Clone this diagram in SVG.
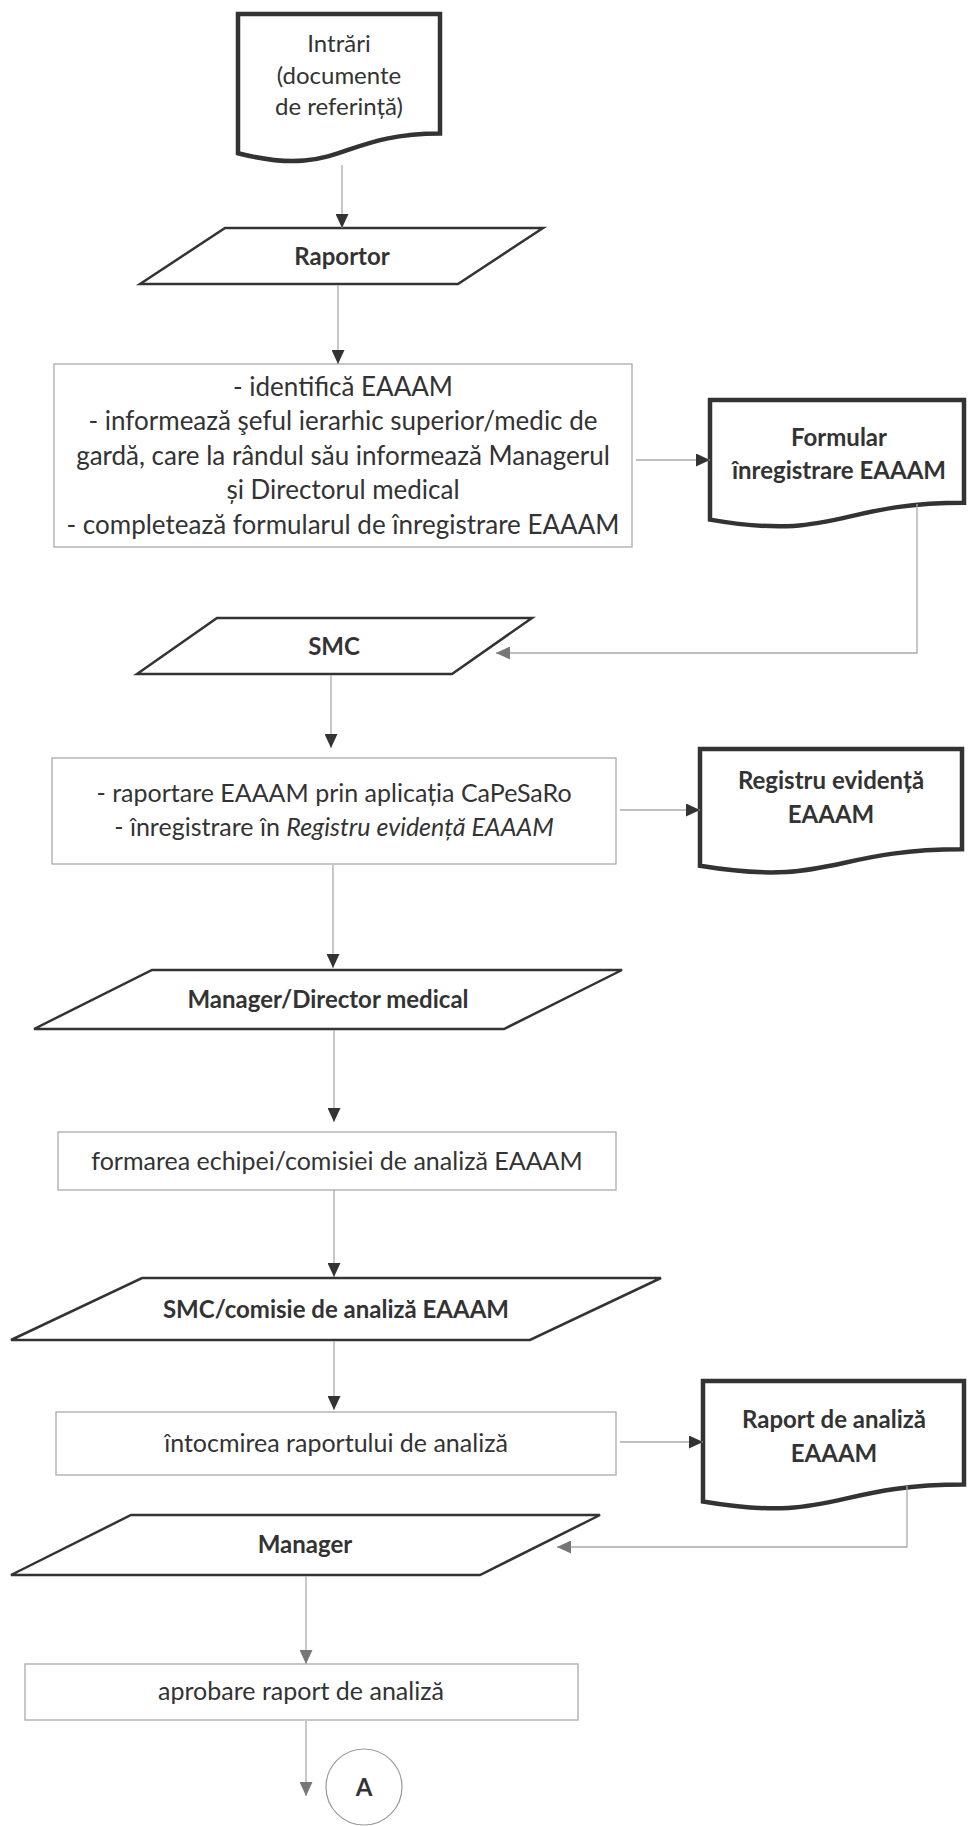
<svg xmlns="http://www.w3.org/2000/svg" width="968" height="1826" viewBox="0 0 968 1826">
<defs>
<marker id="ad" markerUnits="userSpaceOnUse" markerWidth="14" markerHeight="13" refX="14" refY="6.5" orient="auto"><path d="M0,0 L14,6.5 L0,13 Z" fill="#333"/></marker>
<marker id="ag" markerUnits="userSpaceOnUse" markerWidth="14" markerHeight="13" refX="14" refY="6.5" orient="auto"><path d="M0,0 L14,6.5 L0,13 Z" fill="#777"/></marker>
<style>
.doc{fill:#fff;stroke:#333;stroke-width:4.5;stroke-linejoin:miter}
.io{fill:#fff;stroke:#333;stroke-width:2.5;stroke-linejoin:miter}
.box{fill:#fff;stroke:#aaa;stroke-width:1.3}
.circ{fill:#fff;stroke:#999;stroke-width:1.2}
.t{font-family:Lato,'Open Sans',sans-serif;font-size:25px;fill:#333;text-anchor:middle}
.b{font-weight:bold;font-size:24px}
.c{fill:none;stroke:#aaa;stroke-width:1.3}
.cd{marker-end:url(#ad)}
.cg{marker-end:url(#ag)}
</style>
</defs>
<rect width="968" height="1826" fill="#fff"/>

<g id="intrari">
<path class="doc" d="M238,14 H440 V133.5 C339,133.5 339,178.9 238,153.2 Z"/>
<text class="t" x="339" y="52" style="font-size:24px">Intrări</text>
<text class="t" x="339" y="84" style="font-size:24px">(documente</text>
<text class="t" x="339" y="115" style="font-size:24px">de referință)</text>
</g>

<g id="raportor">
<polygon class="io" points="140,284 225,228 543,228 458,284"/>
<text class="t b" x="342" y="265">Raportor</text>
</g>

<g id="pas1">
<rect class="box" x="54" y="364" width="578" height="183"/>
<text class="t" x="343" y="396" style="font-size:26px">- identifică EAAAM</text>
<text class="t" x="343" y="430" style="font-size:26px">- informează şeful ierarhic superior/medic de</text>
<text class="t" x="343" y="465" style="font-size:26px">gardă, care la rândul său informează Managerul</text>
<text class="t" x="343" y="499" style="font-size:26px">și Directorul medical</text>
<text class="t" x="343" y="534" style="font-size:26px">- completează formularul de înregistrare EAAAM</text>
</g>

<g id="formular">
<path class="doc" d="M710,400 H964 V502.7 C837,502.7 837,541.7 710,519.6 Z"/>
<text class="t b" x="839" y="446">Formular</text>
<text class="t b" x="839" y="479">înregistrare EAAAM</text>
</g>

<g id="smc">
<polygon class="io" points="137,674 217,618 532,618 452,674"/>
<text class="t b" x="334" y="655">SMC</text>
</g>

<g id="pas2">
<rect class="box" x="52" y="758" width="564" height="106"/>
<text class="t" x="334" y="802">- raportare EAAAM prin aplicația CaPeSaRo</text>
<text class="t" x="334" y="836">- înregistrare în <tspan font-style="italic">Registru evidență EAAAM</tspan></text>
</g>

<g id="registru">
<path class="doc" d="M700,749 H962 V849.3 C831,849.3 831,887.4 700,865.8 Z"/>
<text class="t b" x="831" y="789">Registru evidență</text>
<text class="t b" x="831" y="823">EAAAM</text>
</g>

<g id="manager-director">
<polygon class="io" points="34,1029 152,970 622,970 504,1029"/>
<text class="t b" x="328" y="1008">Manager/Director medical</text>
</g>

<g id="pas3">
<rect class="box" x="58" y="1132" width="558" height="58"/>
<text class="t" x="337" y="1170">formarea echipei/comisiei de analiză EAAAM</text>
</g>

<g id="smc-comisie">
<polygon class="io" points="11,1340 142,1278 661,1278 530,1340"/>
<text class="t b" x="336" y="1318">SMC/comisie de analiză EAAAM</text>
</g>

<g id="pas4">
<rect class="box" x="56" y="1412" width="560" height="63"/>
<text class="t" x="336" y="1452">întocmirea raportului de analiză</text>
</g>

<g id="raport">
<path class="doc" d="M703,1381 H964 V1484.5 C833,1484.5 833,1523.8 703,1501.5 Z"/>
<text class="t b" x="834" y="1428">Raport de analiză</text>
<text class="t b" x="834" y="1462">EAAAM</text>
</g>

<g id="manager">
<polygon class="io" points="11,1575 131,1515 600,1515 480,1575"/>
<text class="t b" x="305" y="1553">Manager</text>
</g>

<g id="pas5">
<rect class="box" x="25" y="1664" width="553" height="56"/>
<text class="t" x="301" y="1700">aprobare raport de analiză</text>
</g>

<g id="conector-a">
<circle class="circ" cx="364" cy="1787" r="38"/>
<text class="t b" x="364" y="1796">A</text>
</g>

<g id="connectors">
<path class="c cd" d="M342,165 V228"/>
<path class="c cd" d="M338,285 V364"/>
<path class="c cd" d="M636,460 H710"/>
<path class="c cg" d="M917,504 V653 H496"/>
<path class="c cd" d="M331,675 V748"/>
<path class="c cd" d="M620,810 H700"/>
<path class="c cd" d="M333,865 V968"/>
<path class="c cd" d="M334,1030 V1122"/>
<path class="c cd" d="M334,1190 V1277"/>
<path class="c cd" d="M334,1341 V1410"/>
<path class="c cd" d="M620,1442 H703"/>
<path class="c cg" d="M907,1486 V1547 H557"/>
<path class="c cg" d="M306,1576 V1664"/>
<path class="c cg" d="M306,1721 V1796"/>
</g>
</svg>
